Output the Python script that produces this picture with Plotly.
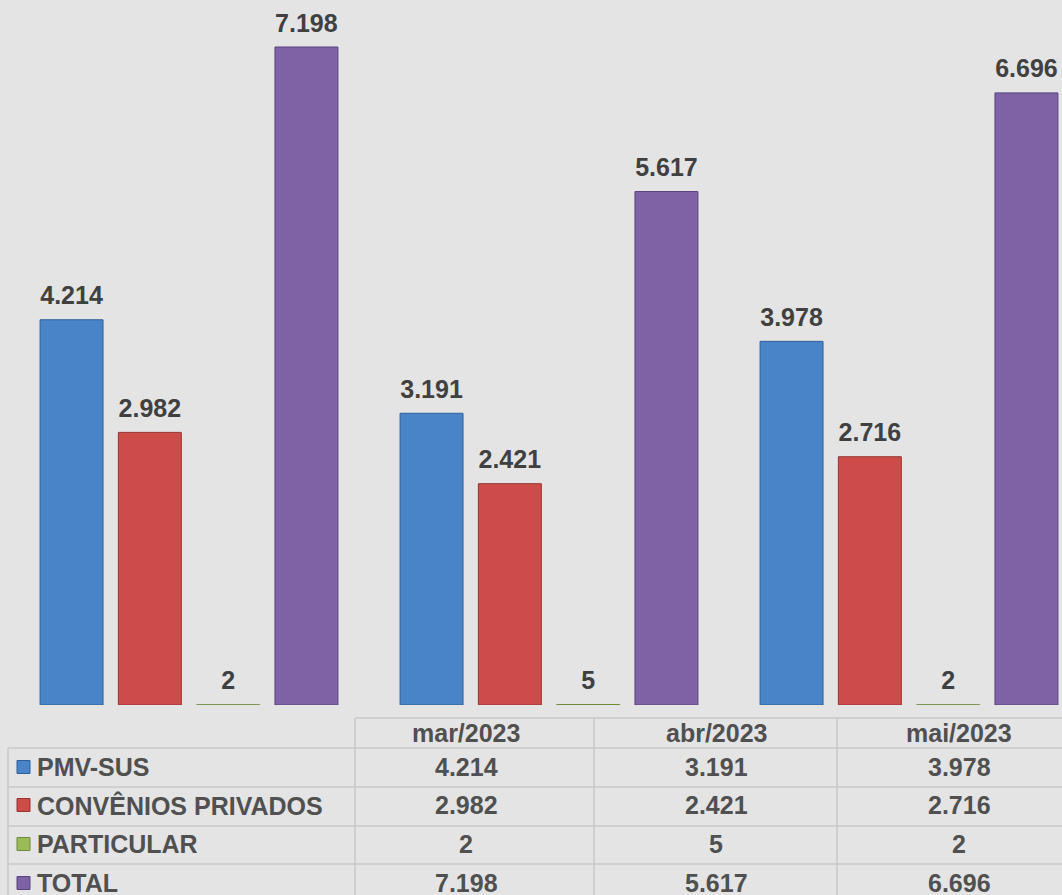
import plotly.graph_objects as go

# ---- data ----
months = ["mar/2023", "abr/2023", "mai/2023"]
series_names = ["PMV-SUS", "CONVÊNIOS PRIVADOS", "PARTICULAR", "TOTAL"]
pmv_sus = [4214, 3191, 3978]
convenios_privados = [2982, 2421, 2716]
particular = [2, 5, 2]
total = [7198, 5617, 6696]
series_values = [pmv_sus, convenios_privados, particular, total]

# ---- style ----
colors = ["#4a84c8", "#cd4b48", "#9bbb59", "#7f61a6"]
edges = ["#2f5f97", "#963532", "#6f8a3c", "#5a4380"]
W, H = 1062, 895
FONT = "Arial, Liberation Sans, sans-serif"
LABEL_COLOR = "#404040"
TABLE_COLOR = "#505050"
GRID = "#c9c9c9"
BG = "#e4e4e4"


def px(x):
    return x / W


def py(y):
    return 1 - y / H


fig = go.Figure()
for name, vals, c, e in zip(series_names, series_values, colors, edges):
    fig.add_trace(go.Bar(
        x=months, y=vals, name=name,
        marker=dict(color=c, line=dict(color=e, width=1)),
        texttemplate="<span style='font-size:25px'><b>%{y:,}</b></span><br> ",
        textposition="outside",
        textfont=dict(family=FONT, size=8, color=LABEL_COLOR),
        cliponaxis=False, showlegend=False,
    ))

shapes = []
annotations = []

# table grid
line = dict(color=GRID, width=1.5)
shapes.append(dict(type="line", xref="paper", yref="paper", x0=px(355), x1=px(1062), y0=py(718), y1=py(718), line=line))
for yy in [748, 787, 826, 864]:
    shapes.append(dict(type="line", xref="paper", yref="paper", x0=px(8), x1=px(1062), y0=py(yy), y1=py(yy), line=line))
for xx in [355, 594, 837]:
    shapes.append(dict(type="line", xref="paper", yref="paper", x0=px(xx), x1=px(xx), y0=py(718), y1=py(895), line=line))
shapes.append(dict(type="line", xref="paper", yref="paper", x0=px(8), x1=px(8), y0=py(748), y1=py(895), line=line))

col_centers = [466, 716, 959]
header_y = 733
row_ys = [767, 805, 844, 883]

for m, cx in zip(months, col_centers):
    annotations.append(dict(xref="paper", yref="paper", x=px(cx), y=py(header_y), text="<b>%s</b>" % m,
                            showarrow=False, xanchor="center", yanchor="middle",
                            font=dict(family=FONT, size=25, color=TABLE_COLOR)))

for name, vals, c, e, ry in zip(series_names, series_values, colors, edges, row_ys):
    shapes.append(dict(type="rect", xref="paper", yref="paper", x0=px(17), x1=px(30),
                       y0=py(ry + 6.5), y1=py(ry - 6.5), fillcolor=c, line=dict(color=e, width=1)))
    annotations.append(dict(xref="paper", yref="paper", x=px(35), y=py(ry), text="<b>%s</b>" % name,
                            showarrow=False, xanchor="left", yanchor="middle",
                            font=dict(family=FONT, size=25, color=TABLE_COLOR)))
    for v, cx in zip(vals, col_centers):
        annotations.append(dict(xref="paper", yref="paper", x=px(cx), y=py(ry),
                                text="<b>%s</b>" % format(v, ",").replace(",", "."),
                                showarrow=False, xanchor="center", yanchor="middle",
                                font=dict(family=FONT, size=25, color=TABLE_COLOR)))

fig.update_layout(
    width=W, height=H,
    margin=dict(l=0, r=0, t=0, b=0),
    paper_bgcolor=BG, plot_bgcolor=BG,
    barmode="group", bargap=0.13, bargroupgap=0.196,
    separators=",.",
    font=dict(family=FONT, color=LABEL_COLOR),
    xaxis=dict(range=[-0.525, 2.425], showticklabels=False, showgrid=False, zeroline=False,
               showline=False, ticks=""),
    yaxis=dict(range=[0, 7712], domain=[1 - 705 / H, 1], showticklabels=False, showgrid=False,
               zeroline=False, showline=False, ticks=""),
    shapes=shapes, annotations=annotations,
)

fig.write_html("out.html",
               config={"displayModeBar": False},
               post_script="document.body.style.margin='0';document.body.style.padding='0';"
                           "document.body.style.overflow='hidden';")
